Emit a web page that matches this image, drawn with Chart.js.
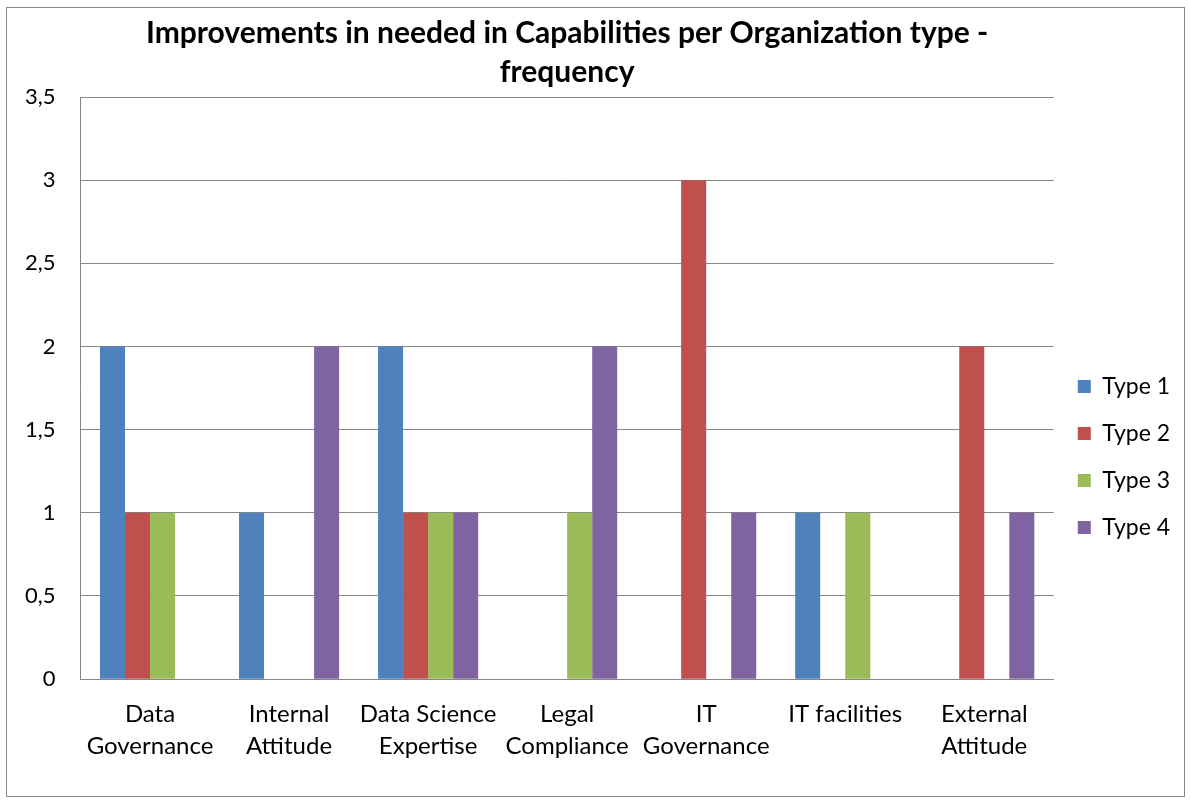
<!DOCTYPE html>
<html>
<head>
<meta charset="utf-8">
<script src="https://cdn.jsdelivr.net/npm/chart.js@4/dist/chart.umd.min.js"></script>
<style>
  html, body { margin: 0; padding: 0; background: #fff; }
  #wrap { width: 1190px; height: 805px; position: relative; }
</style>
</head>
<body>
<div id="wrap"><canvas id="chart" width="1190" height="805"></canvas></div>
<script>
var categories = [
    ['Data', 'Governance'],
    ['Internal', 'Attitude'],
    ['Data Science', 'Expertise'],
    ['Legal', 'Compliance'],
    ['IT', 'Governance'],
    ['IT facilities'],
    ['External', 'Attitude']
];
var type1 = [2, 1, 2, 0, 0, 1, 0];
var type2 = [1, 0, 1, 0, 3, 0, 2];
var type3 = [1, 0, 1, 1, 0, 1, 0];
var type4 = [0, 2, 1, 2, 1, 0, 1];
var yTickLabels = ['0', '0,5', '1', '1,5', '2', '2,5', '3', '3,5'];

var font = 'Lato, "Open Sans", sans-serif';

// outer frame like the Excel chart border
var framePlugin = {
    id: 'frame',
    beforeDraw: function(chart) {
        var c = chart.ctx;
        c.save();
        c.fillStyle = '#fff';
        c.fillRect(0, 0, chart.width, chart.height);
        c.strokeStyle = '#888';
        c.lineWidth = 1;
        c.strokeRect(6.5, 7.5, 1178, 789);
        c.restore();
    }
};

new Chart(document.getElementById('chart').getContext('2d'), {
    type: 'bar',
    data: {
        labels: categories,
        datasets: [
            { label: 'Type 1', data: type1, backgroundColor: '#4F81BD' },
            { label: 'Type 2', data: type2, backgroundColor: '#C0504D' },
            { label: 'Type 3', data: type3, backgroundColor: '#9BBB59' },
            { label: 'Type 4', data: type4, backgroundColor: '#8064A2' }
        ]
    },
    plugins: [framePlugin],
    options: {
        responsive: false,
        animation: false,
        datasets: {
            bar: { categoryPercentage: 0.72, barPercentage: 1.0 }
        },
        layout: {
            padding: { left: 0, right: 10, top: 11, bottom: 24 }
        },
        plugins: {
            title: {
                display: true,
                fullSize: false,
                text: ['Improvements in needed in Capabilities per Organization type -', 'frequency'],
                color: '#000',
                font: { family: font, size: 30, weight: 'bold', lineHeight: 1.3 },
                padding: { top: 2.5, bottom: 5.5 }
            },
            legend: {
                position: 'right',
                align: 'start',
                title: { display: true, text: ' ', padding: { top: 328, bottom: 0 }, font: { size: 10 } },
                labels: {
                    color: '#000',
                    boxWidth: 13,
                    boxHeight: 13,
                    padding: 24,
                    font: { family: font, size: 23 }
                }
            },
            tooltip: { enabled: false }
        },
        scales: {
            x: {
                grid: { display: false, drawTicks: false },
                border: { display: true, color: '#868686', width: 1 },
                ticks: {
                    color: '#000',
                    padding: 19,
                    maxRotation: 0,
                    autoSkip: false,
                    font: { family: font, size: 24, lineHeight: 1.33 }
                }
            },
            y: {
                min: 0,
                max: 3.5,
                grid: { color: '#868686', lineWidth: 1, drawTicks: false },
                border: { display: true, color: '#868686', width: 1 },
                ticks: {
                    stepSize: 0.5,
                    color: '#000',
                    padding: 25,
                    font: { family: font, size: 22 },
                    callback: function(value, index) {
                        return yTickLabels[index];
                    }
                }
            }
        }
    }
});
</script>
</body>
</html>
